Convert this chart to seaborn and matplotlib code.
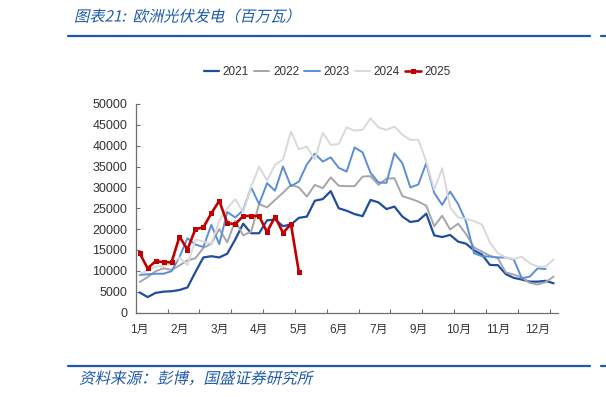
import numpy as np
import pandas as pd
import seaborn as sns
import matplotlib
matplotlib.use("Agg")
import matplotlib.pyplot as plt
from matplotlib.ticker import FixedLocator, FixedFormatter
from matplotlib.patheffects import AbstractPathEffect
from matplotlib.transforms import Affine2D

# ---------------- data (weekly, 百万瓦) ----------------
y2021 = [4800, 3700, 4700, 5000, 5100, 5400, 6000, 9700, 13200, 13500,
         13200, 14100, 17500, 21300, 19000, 19000, 22100, 22300, 20700, 21100,
         22700, 23000, 26800, 27200, 29100, 25000, 24400, 23600, 23100, 27000,
         26400, 24800, 25400, 23000, 21700, 22000, 23700, 18500, 18100, 18600,
         17000, 16500, 14900, 13900, 11400, 11350, 9200, 8300, 7900, 7400,
         7400, 7600, 7000]
y2022 = [7300, 8500, 9900, 10600, 10200, 11300, 12500, 13000, 15500, 16500,
         20000, 16800, 22000, 18500, 19400, 26000, 25200, 27000, 28700, 30600,
         30000, 27800, 30600, 29800, 32400, 30400, 30300, 30300, 32600, 32700,
         30600, 32100, 32200, 27900, 27300, 26600, 25600, 20700, 23200, 19900,
         21300, 18800, 15600, 14600, 13600, 13000, 9600, 9100, 8400, 7100,
         6700, 7300, 8600]
y2023 = [9000, 9150, 9300, 9300, 9900, 13300, 17800, 16300, 15700, 21000,
         16400, 24100, 22800, 24500, 30000, 26000, 31000, 29200, 35000, 30300,
         31400, 35500, 38100, 36200, 37200, 34700, 33800, 39600, 38400, 33500,
         31200, 31100, 38200, 35800, 30000, 30700, 35800, 28700, 25800, 29000,
         26000, 21800, 14200, 13500, 13400, 13200, 13200, 12700, 8200, 8600,
         10600, 10400]
y2024 = [9300, 10000, 11000, 11200, 11500, 13200, 11400, 17500, 17000, 16500,
         22000, 25000, 27200, 24000, 30200, 35000, 31600, 35400, 36700, 43400,
         39100, 39800, 36700, 43100, 40200, 40400, 44400, 43600, 43800, 46600,
         44400, 43800, 44600, 42600, 41400, 41400, 36200, 29400, 34600, 25200,
         22800, 22500, 21900, 21100, 16800, 14200, 13200, 12800, 13400, 11800,
         11000, 11000, 12700]
y2025 = [14200, 10600, 12300, 12100, 12000, 18200, 15100, 20000, 20400, 23800,
         26800, 21400, 21200, 23100, 23200, 23100, 19300, 23000, 19100, 21200,
         9700]

years = ["2021", "2022", "2023", "2024", "2025"]
series = [y2021, y2022, y2023, y2024, y2025]
month_labels = ["1月", "2月", "3月", "4月", "5月", "6月", "7月", "9月", "10月", "11月", "12月"]
y_ticks = [0, 5000, 10000, 15000, 20000, 25000, 30000, 35000, 40000, 45000, 50000]

title_text = "图表21:  欧洲光伏发电（百万瓦）"
source_text = "资料来源：彭博，国盛证券研究所"


class Slant(AbstractPathEffect):
    """Draw text slanted (fake italic) around a given baseline height."""
    def __init__(self, y0, deg=13):
        super().__init__()
        self.y0 = y0
        self.deg = deg

    def draw_path(self, renderer, gc, tpath, affine, rgbFace=None):
        sk = Affine2D().translate(0, -self.y0).skew_deg(self.deg, 0).translate(0, self.y0)
        renderer.draw_path(gc, tpath, affine + sk, rgbFace)


# ---------------- style ----------------
sns.set_style("white")
plt.rcParams["font.family"] = ["Liberation Sans", "Noto Sans CJK SC", "DejaVu Sans"]

colors = ["#1F4E9E", "#A6A6A6", "#5B8ED6", "#D9D9D9", "#C00000"]
widths = [1.6, 1.4, 1.4, 1.4, 1.9]

W, H = 606, 397
fig = plt.figure(figsize=(W / 100, H / 100), dpi=100)
ax_l, ax_r, ax_t, ax_b = 135.7, 557.6, 104.0, 312.5
ax = fig.add_axes([ax_l / W, 1 - ax_b / H, (ax_r - ax_l) / W, (ax_b - ax_t) / H])

frames = []
for yr, vals in zip(years, series):
    frames.append(pd.DataFrame({"week": np.arange(len(vals)), "value": vals, "year": yr}))
df = pd.concat(frames, ignore_index=True)

for i, (yr, col, lw) in enumerate(zip(years, colors, widths)):
    sub = df[df["year"] == yr]
    if yr == "2025":
        sns.lineplot(data=sub, x="week", y="value", ax=ax, color=col, linewidth=lw,
                     marker="s", markersize=3.6, markeredgewidth=0, label=yr, zorder=10)
    else:
        sns.lineplot(data=sub, x="week", y="value", ax=ax, color=col, linewidth=lw,
                     label=yr, zorder=2 + i)

ax.set_xlim(-0.5, 52.5)
ax.set_ylim(0, 50000)
ax.set_xlabel("")
ax.set_ylabel("")

# x axis: labels every 5 weeks, tick marks every 4 weeks
label_pos = list(range(0, 55, 5))[:len(month_labels)]
ax.xaxis.set_major_locator(FixedLocator(label_pos))
ax.xaxis.set_major_formatter(FixedFormatter(month_labels))
ax.xaxis.set_minor_locator(FixedLocator([-0.5 + 4 * k for k in range(14)]))
ax.tick_params(axis="x", which="major", length=0, pad=8, labelsize=8.5, colors="#333333")
ax.tick_params(axis="x", which="minor", length=3, width=0.8, direction="in",
               color="#6f6f6f", bottom=True)
ax.set_yticks(y_ticks)
ax.set_yticklabels([str(v) for v in y_ticks])
ax.tick_params(axis="y", which="major", length=3, width=0.8, direction="in",
               color="#6f6f6f", labelsize=9, pad=6, labelcolor="#333333", left=True)

for s in ["top", "right"]:
    ax.spines[s].set_visible(False)
for s in ["left", "bottom"]:
    ax.spines[s].set_color("#6f6f6f")
    ax.spines[s].set_linewidth(0.9)

# legend
handles, labels = ax.get_legend_handles_labels()
ax.get_legend().remove()
fig.legend(handles, labels, loc="center", bbox_to_anchor=(327 / W, 1 - 72 / H),
           ncol=5, frameon=False, fontsize=8.5, handlelength=1.3,
           handletextpad=0.3, columnspacing=0.45, labelcolor="#333333")

# title, rules, source
blue = "#1F5AA8"
t1 = fig.text(75 / W, 1 - 17 / H, title_text, ha="left", va="center", fontsize=11,
              color=blue, family=["Noto Sans CJK SC", "DejaVu Sans"])
t1.set_path_effects([Slant(H - 17)])
for yy in (36, 366):
    fig.add_artist(plt.Line2D([68 / W, 590 / W], [1 - yy / H, 1 - yy / H],
                              color=blue, linewidth=1.6, transform=fig.transFigure))
    fig.add_artist(plt.Line2D([601 / W, 606 / W], [1 - yy / H, 1 - yy / H],
                              color=blue, linewidth=1.6, transform=fig.transFigure))
t2 = fig.text(80 / W, 1 - 379 / H, source_text, ha="left", va="center", fontsize=11.2,
              color=blue, family=["Noto Sans CJK SC", "DejaVu Sans"])
t2.set_path_effects([Slant(H - 379)])

fig.savefig("out.png", dpi=100)
